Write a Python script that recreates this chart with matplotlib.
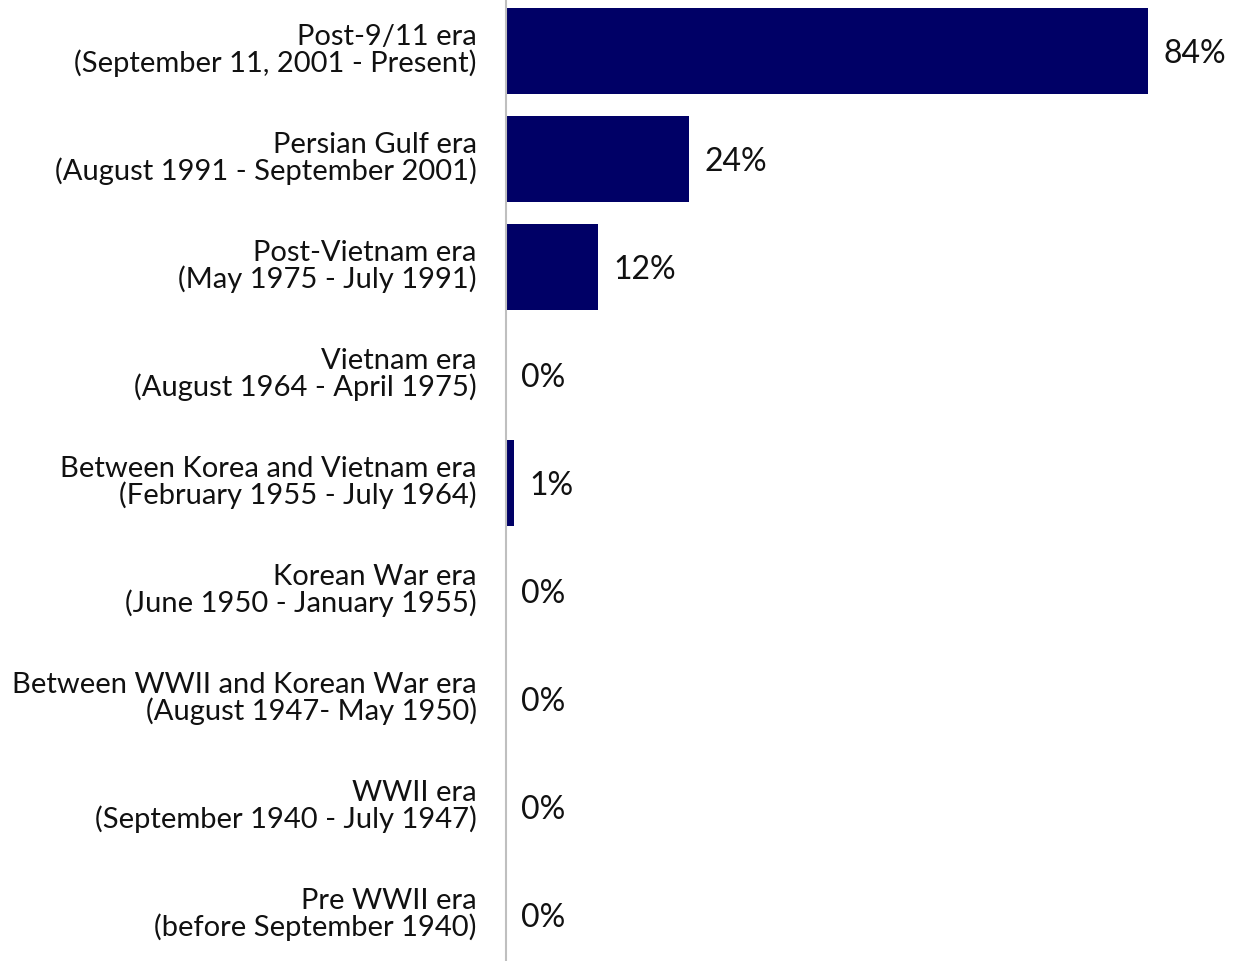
import matplotlib.pyplot as plt
import matplotlib.transforms as mtransforms

plt.rcParams['font.family'] = ['Lato', 'DejaVu Sans']

# data
categories = [
    "Post-9/11 era\n(September 11, 2001 - Present)",
    "Persian Gulf era\n(August 1991 - September 2001)",
    "Post-Vietnam era\n(May 1975 - July 1991)",
    "Vietnam era\n(August 1964 - April 1975)",
    "Between Korea and Vietnam era\n(February 1955 - July 1964)",
    "Korean War era\n(June 1950 - January 1955)",
    "Between WWII and Korean War era\n(August 1947- May 1950)",
    "WWII era\n(September 1940 - July 1947)",
    "Pre WWII era\n(before September 1940)",
]
values = [84, 24, 12, 0, 1, 0, 0, 0, 0]

fig = plt.figure(figsize=(12.45, 9.62), dpi=100)
ax = fig.add_axes([506 / 1245, 0, 739 / 1245, 1])

ypos = list(range(len(categories)))
ax.barh(ypos, values, height=0.8, color='#000066')

for y, v in zip(ypos, values):
    ax.annotate(f'{v}%', xy=(v, y), xytext=(11, -1.5), textcoords='offset points',
                ha='left', va='center', fontsize=23, color='#111111')

ax.set_xlim(0, 96.7)
ax.set_ylim(8.426, -0.481)
ax.set_yticks(ypos)
ax.set_yticklabels(categories, fontsize=21, color='#111111', linespacing=0.97)
ax.tick_params(axis='y', length=0, pad=21)
ax.set_xticks([])

# nudge category labels up a few pixels
shift = mtransforms.ScaledTranslation(0, 4 / 100, fig.dpi_scale_trans)
for lab in ax.get_yticklabels():
    lab.set_transform(lab.get_transform() + shift)

for s in ['top', 'right', 'bottom']:
    ax.spines[s].set_visible(False)
ax.spines['left'].set_color('#bfbfbf')
ax.spines['left'].set_linewidth(1.5)

fig.savefig('out.png', dpi=100)
